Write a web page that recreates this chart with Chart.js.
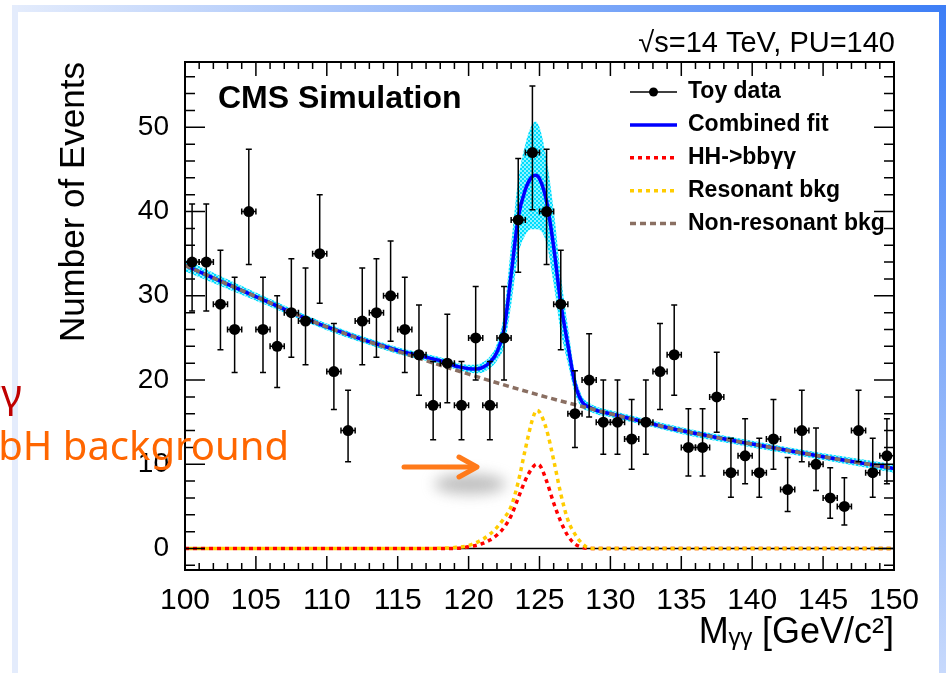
<!DOCTYPE html>
<html>
<head>
<meta charset="utf-8">
<script src="https://cdn.jsdelivr.net/npm/chart.js@4.4.1/dist/chart.umd.min.js"></script>
<style>
  html, body { margin: 0; padding: 0; background: #fff; overflow: hidden; }
  #wrap { position: relative; width: 946px; height: 673px; }
  #c { position: absolute; left: 0; top: 0; }
  #slide { position: absolute; left: 0; top: 0; pointer-events: none; }
</style>
</head>
<body>
<div id="wrap">
  <canvas id="c" width="946" height="673"></canvas>
  <svg id="slide" width="946" height="673" xmlns="http://www.w3.org/2000/svg">
    <defs>
      <linearGradient id="topEdge" x1="0" x2="1" y1="0" y2="0">
        <stop offset="0" stop-color="#e4ecfc"/>
        <stop offset="1" stop-color="#3d7ef6"/>
      </linearGradient>
      <linearGradient id="rightEdge" x1="0" x2="0" y1="0" y2="1">
        <stop offset="0" stop-color="#3d7ef6"/>
        <stop offset="1" stop-color="#c7d9fc"/>
      </linearGradient>
      <filter id="soft" x="-60%" y="-120%" width="220%" height="340%">
        <feGaussianBlur stdDeviation="7"/>
      </filter>
    </defs>
    <rect x="12" y="5" width="934" height="7" fill="url(#topEdge)"/>
    <rect x="12" y="5" width="6" height="668" fill="#e4ecfc"/>
    <rect x="939" y="5" width="7" height="668" fill="url(#rightEdge)"/>
    <ellipse cx="470" cy="484" rx="36" ry="10" fill="#8a8a8a" opacity="0.55" filter="url(#soft)"/>
    <g stroke="#ff7a1a" stroke-width="5" fill="none" stroke-linecap="round" stroke-linejoin="round">
      <line x1="404" y1="467" x2="475" y2="467"/>
      <polyline points="459,457 477,467 459,477"/>
    </g>
    <text x="22" y="408" text-anchor="end" font-family="Noto Sans, Open Sans, sans-serif" font-size="40" fill="#c00000">bbγγ</text>
    <text x="289" y="460" text-anchor="end" font-family="Noto Sans, Open Sans, sans-serif" font-size="40" fill="#ff6600">bH background</text>
  </svg>
</div>
<script>
// toy data, 1 GeV bins
const massBins = [100.5, 101.5, 102.5, 103.5, 104.5, 105.5, 106.5, 107.5, 108.5, 109.5,
                  110.5, 111.5, 112.5, 113.5, 114.5, 115.5, 116.5, 117.5, 118.5, 119.5,
                  120.5, 121.5, 122.5, 123.5, 124.5, 125.5, 126.5, 127.5, 128.5, 129.5,
                  130.5, 131.5, 132.5, 133.5, 134.5, 135.5, 136.5, 137.5, 138.5, 139.5,
                  140.5, 141.5, 142.5, 143.5, 144.5, 145.5, 146.5, 147.5, 148.5, 149.5];
const toyCounts = [34, 34, 29, 26, 40, 26, 24, 28, 27, 35,
                   21, 14, 27, 28, 30, 26, 23, 17, 22, 17,
                   25, 17, 25, 39, 47, 40, 29, 16, 20, 15,
                   15, 13, 15, 21, 23, 12, 12, 18, 9, 11,
                   9, 13, 7, 14, 10, 6, 5, 14, 9, 11];
const errDown = [5.8, 5.8, 5.4, 5.1, 6.3, 5.1, 4.9, 5.3, 5.2, 5.9,
                 4.5, 3.7, 5.2, 5.3, 5.4, 5.1, 4.8, 4.1, 4.7, 4.1,
                 5.0, 4.1, 5.0, 6.2, 6.8, 6.3, 5.4, 4.0, 4.4, 3.8,
                 3.8, 3.6, 3.8, 4.5, 4.8, 3.4, 3.4, 4.2, 2.9, 3.3,
                 2.9, 3.6, 2.6, 3.7, 3.1, 2.4, 2.2, 3.7, 2.9, 3.3];
const errUp = [6.9, 6.9, 6.4, 6.2, 7.4, 6.2, 6.0, 6.4, 6.3, 7.0,
               5.7, 4.8, 6.3, 6.4, 6.5, 6.2, 5.9, 5.2, 5.8, 5.2,
               6.1, 5.2, 6.1, 7.3, 7.9, 7.4, 6.4, 5.1, 5.5, 5.0,
               5.0, 4.7, 5.0, 5.7, 5.9, 4.6, 4.6, 5.3, 4.1, 4.4,
               4.1, 4.7, 3.8, 4.8, 4.3, 3.6, 3.4, 4.8, 4.1, 4.4];
const binHalfWidth = 0.5;

// combined fit and its uncertainty band
const fitMass = [100, 105, 110, 115, 117, 118, 119, 119.5, 120, 120.5, 121, 121.5, 122, 122.5,
                 123, 123.5, 124, 124.4, 124.7, 125, 125.5, 126, 126.5, 127, 127.5, 128, 128.5,
                 129, 130, 135, 140, 145, 150];
const combinedFit = [33.6, 29.9, 26.3, 23.5, 22.7, 22.3, 21.7, 21.5, 21.35, 21.3, 21.5, 22.1, 23.3, 26.0,
                     32.5, 39.3, 42.6, 44.0, 44.3, 43.9, 41.2, 35.8, 29.1, 24.2, 19.6, 17.4, 16.8,
                     16.4, 16.0, 14.0, 12.4, 10.9, 9.5];
const fitBandErr = [0.7, 0.5, 0.4, 0.4, 0.4, 0.4, 0.4, 0.4, 0.45, 0.5, 0.6, 0.7, 1.0, 2.0,
                    3.6, 4.5, 5.4, 6.1, 6.4, 6.1, 5.0, 4.4, 3.4, 2.2, 1.2, 0.7, 0.5,
                    0.45, 0.4, 0.4, 0.4, 0.4, 0.5];

// non-resonant background
const bkgMass = [100, 105, 110, 115, 120, 125, 130, 135, 140, 145, 150];
const nonResBkg = [33.6, 29.9, 26.3, 23.4, 20.7, 18.2, 16.0, 14.0, 12.4, 10.9, 9.5];

// HH signal and resonant background
const sigMass = [100, 117, 118, 119, 120, 121, 121.5, 122, 122.5, 123, 123.5, 124, 124.5, 124.8,
                 125, 125.5, 126, 126.5, 127, 127.5, 128, 128.5, 129, 150];
const hhSignal = [0, 0, 0, 0.02, 0.2, 0.6, 1.0, 1.6, 2.5, 3.9, 6.0, 8.1, 9.6, 10.0,
                  9.9, 8.0, 5.4, 3.2, 1.5, 0.55, 0.15, 0, 0, 0];
const resBkg = [0, 0, 0.03, 0.12, 0.35, 1.1, 1.7, 2.5, 3.6, 5.0, 7.9, 11.8, 15.3, 16.4,
                16.2, 14.1, 10.5, 6.5, 3.4, 1.7, 0.6, 0.05, 0, 0];

const xTickLabels = [100, 105, 110, 115, 120, 125, 130, 135, 140, 145, 150];
const yTickLabels = [0, 10, 20, 30, 40, 50];

const FONT = "'Liberation Sans', Arial, Helvetica, sans-serif";

function pts(xs, ys) {
    return xs.map((x, i) => ({ x: x, y: ys[i] }));
}

// hatched cyan fill like the ROOT error band
function hatchPattern() {
    const p = document.createElement('canvas');
    p.width = 4; p.height = 4;
    const g = p.getContext('2d');
    g.fillStyle = '#8ff4ff';
    g.fillRect(0, 0, 4, 4);
    g.fillStyle = '#00dcff';
    g.fillRect(0, 0, 2, 2);
    g.fillRect(2, 2, 2, 2);
    return g.createPattern(p, 'repeat');
}

const rootStyle = {
    id: 'rootStyle',
    beforeDatasetsDraw(chart) {
        const { ctx, chartArea: a, scales: { y } } = chart;
        const y0 = y.getPixelForValue(0);
        ctx.save();
        ctx.strokeStyle = '#000';
        ctx.lineWidth = 1.5;
        ctx.beginPath();
        ctx.moveTo(a.left, y0);
        ctx.lineTo(a.right, y0);
        ctx.stroke();
        ctx.restore();
    },
    afterDatasetsDraw(chart) {
        // error bars of the toy data
        const { ctx, scales: { x, y } } = chart;
        ctx.save();
        ctx.strokeStyle = '#000';
        ctx.lineWidth = 1.5;
        massBins.forEach((m, i) => {
            const px = x.getPixelForValue(m);
            const py = y.getPixelForValue(toyCounts[i]);
            const yHi = y.getPixelForValue(toyCounts[i] + errUp[i]);
            const yLo = y.getPixelForValue(toyCounts[i] - errDown[i]);
            const xL = x.getPixelForValue(m - binHalfWidth);
            const xR = x.getPixelForValue(m + binHalfWidth);
            ctx.beginPath();
            ctx.moveTo(px, yHi); ctx.lineTo(px, yLo);
            ctx.moveTo(px - 3, yHi); ctx.lineTo(px + 3, yHi);
            ctx.moveTo(px - 3, yLo); ctx.lineTo(px + 3, yLo);
            ctx.moveTo(xL, py); ctx.lineTo(xR, py);
            ctx.moveTo(xL, py - 3); ctx.lineTo(xL, py + 3);
            ctx.moveTo(xR, py - 3); ctx.lineTo(xR, py + 3);
            ctx.stroke();
        });
        ctx.restore();
    },
    afterDraw(chart) {
        const { ctx, chartArea: a, scales: { x, y } } = chart;
        ctx.save();
        // frame
        ctx.strokeStyle = '#000';
        ctx.lineWidth = 2;
        ctx.strokeRect(a.left, a.top, a.right - a.left, a.bottom - a.top);
        // inward ticks, ROOT style
        ctx.lineWidth = 1.5;
        ctx.beginPath();
        for (let v = 100; v <= 150; v++) {
            const len = v % 5 === 0 ? 14 : 7;
            const px = x.getPixelForValue(v);
            ctx.moveTo(px, a.bottom); ctx.lineTo(px, a.bottom - len);
            ctx.moveTo(px, a.top); ctx.lineTo(px, a.top + len);
        }
        for (let v = -2; v <= 56; v += 2) {
            const len = v % 10 === 0 ? 20 : 10;
            const py = y.getPixelForValue(v);
            ctx.moveTo(a.left, py); ctx.lineTo(a.left + len, py);
            ctx.moveTo(a.right, py); ctx.lineTo(a.right - len, py);
        }
        ctx.stroke();

        // labels inside the frame
        ctx.fillStyle = '#000';
        ctx.textBaseline = 'alphabetic';
        ctx.font = 'bold 32px ' + FONT;
        ctx.textAlign = 'left';
        ctx.fillText('CMS Simulation', a.left + 33, a.top + 46);
        ctx.font = '29px ' + FONT;
        ctx.textAlign = 'right';
        ctx.fillText('\u221As=14 TeV, PU=140', a.right + 1, a.top - 10);

        // legend
        const order = [0, 4, 2, 3, 1];
        const x0 = a.right - 264, x1 = a.right - 217, tx = a.right - 206;
        ctx.font = 'bold 23px ' + FONT;
        ctx.textAlign = 'left';
        ctx.textBaseline = 'middle';
        order.forEach((di, row) => {
            const ds = chart.data.datasets[di];
            const ry = a.top + 30 + row * 32.9;
            ctx.save();
            if (di === 0) {
                ctx.strokeStyle = '#000';
                ctx.lineWidth = 1.5;
                ctx.beginPath(); ctx.moveTo(x0, ry); ctx.lineTo(x1, ry); ctx.stroke();
                ctx.fillStyle = '#000';
                ctx.beginPath(); ctx.arc((x0 + x1) / 2, ry, 4.5, 0, Math.PI * 2); ctx.fill();
            } else {
                ctx.strokeStyle = ds.borderColor;
                ctx.lineWidth = ds.borderWidth;
                ctx.setLineDash(ds.borderDash || []);
                ctx.beginPath(); ctx.moveTo(x0, ry); ctx.lineTo(x1, ry); ctx.stroke();
            }
            ctx.restore();
            ctx.fillStyle = '#000';
            ctx.fillText(ds.label, tx, ry);
        });
        ctx.restore();
    }
};

const curve = {
    pointRadius: 0,
    fill: false,
    cubicInterpolationMode: 'monotone'
};

new Chart(document.getElementById('c'), {
    type: 'line',
    data: {
        datasets: [
            { label: 'Toy data', type: 'scatter', data: pts(massBins, toyCounts),
              pointRadius: 5.5, pointBackgroundColor: '#000', pointBorderWidth: 0,
              showLine: false, order: 0 },
            Object.assign({ label: 'Non-resonant bkg', data: pts(bkgMass, nonResBkg),
              borderColor: '#8a6f62', borderWidth: 3.5, borderDash: [6, 4], order: 1 }, curve),
            Object.assign({ label: 'HH->bb\u03B3\u03B3', data: pts(sigMass, hhSignal),
              borderColor: '#ff0000', borderWidth: 3.5, borderDash: [4, 4], order: 3 }, curve),
            Object.assign({ label: 'Resonant bkg', data: pts(sigMass, resBkg),
              borderColor: '#ffcc00', borderWidth: 3.5, borderDash: [4, 4], borderDashOffset: 4, order: 2 }, curve),
            Object.assign({ label: 'Combined fit', data: pts(fitMass, combinedFit),
              borderColor: '#0000ff', borderWidth: 3.5, order: 4 }, curve),
            Object.assign({ label: 'fit band low', data: pts(fitMass, combinedFit.map((v, i) => v - fitBandErr[i])),
              borderWidth: 0, borderColor: 'rgba(0,0,0,0)', order: 6 }, curve),
            Object.assign({}, curve, { label: 'fit band high', data: pts(fitMass, combinedFit.map((v, i) => v + fitBandErr[i])),
              borderWidth: 0, borderColor: 'rgba(0,0,0,0)', fill: '-1', backgroundColor: hatchPattern(), order: 5 })
        ]
    },
    options: {
        responsive: false,
        animation: false,
        events: [],
        layout: { padding: { left: 0, right: 52, top: 62, bottom: 0 } },
        plugins: {
            legend: { display: false },
            tooltip: { enabled: false }
        },
        scales: {
            x: {
                type: 'linear',
                min: 100,
                max: 150,
                grid: { display: false },
                border: { display: false },
                ticks: { font: { family: FONT, size: 30 }, color: '#000', padding: 5, maxRotation: 0, autoSkip: false },
                title: { display: true, text: 'M\u1D67\u1D67 [GeV/c\u00B2]', align: 'end', color: '#000',
                         font: { family: FONT, size: 36 }, padding: { top: 0, bottom: 18 } },
                afterBuildTicks: (scale) => { scale.ticks = xTickLabels.map(v => ({ value: v })); },
                afterFit: (scale) => { scale.height = 103; }
            },
            y: {
                type: 'linear',
                min: -2.55,
                max: 57.75,
                grid: { display: false },
                border: { display: false },
                ticks: { font: { family: FONT, size: 28 }, color: '#000', padding: 8 },
                title: { display: true, text: 'Number of Events', align: 'end', color: '#000',
                         font: { family: FONT, size: 35 }, padding: { top: 53, bottom: 0 } },
                afterBuildTicks: (scale) => { scale.ticks = yTickLabels.map(v => ({ value: v })); },
                afterFit: (scale) => { scale.width = 185; }
            }
        }
    },
    plugins: [rootStyle]
});
</script>
</body>
</html>
